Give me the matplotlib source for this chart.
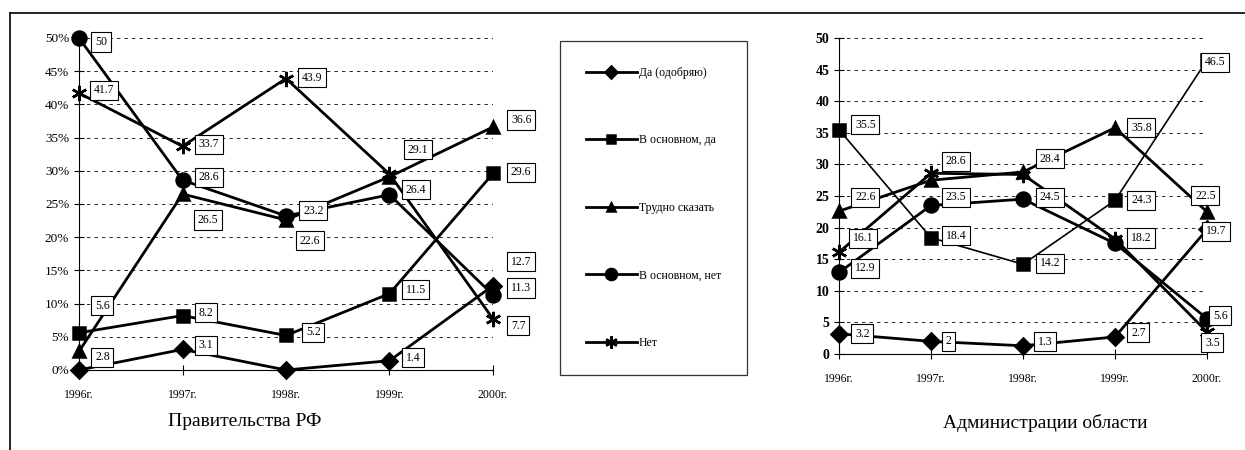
import matplotlib
matplotlib.use('Agg')
import matplotlib.pyplot as plt
from matplotlib.lines import Line2D
from matplotlib.ticker import FuncFormatter

plt.rcParams['font.family'] = ['Liberation Serif', 'DejaVu Serif']

years = ['1996г.', '1997г.', '1998г.', '1999г.', '2000г.']
series_names = ['Да (одобряю)', 'В основном, да', 'Трудно сказать', 'В основном, нет', 'Нет']

# Правительства РФ, %
gov_da = [0, 3.1, 0, 1.4, 12.7]
gov_osn_da = [5.6, 8.2, 5.2, 11.5, 29.6]
gov_trudno = [2.8, 26.5, 22.6, 29.1, 36.6]
gov_osn_net = [50, 28.6, 23.2, 26.4, 11.3]
gov_net = [41.7, 33.7, 43.9, 29.5, 7.7]
# which points carry a value box (1) or not (0)
gov_shown = [[0, 1, 0, 1, 1], [1, 1, 1, 1, 1], [1, 1, 1, 1, 1], [1, 1, 1, 1, 1], [1, 1, 1, 0, 1]]

# Администрации области
adm_da = [3.2, 2, 1.3, 2.7, 19.7]
adm_osn_da = [35.5, 18.4, 14.2, 24.3, 46.5]
adm_trudno = [22.6, 27.5, 28.8, 35.8, 22.5]
adm_osn_net = [12.9, 23.5, 24.5, 17.5, 5.6]
adm_net = [16.1, 28.6, 28.4, 18.2, 3.5]
adm_shown = [[1, 1, 1, 1, 1], [1, 1, 1, 1, 1], [1, 0, 0, 1, 1], [1, 1, 1, 0, 1], [1, 1, 1, 1, 1]]

# label offsets in pixels (dx to text left edge, dy upward)
gov_offsets = [
    [None, (16, 4), None, (16, 3), (18, 24)],
    [(16, 27), (16, 3), (20, 3), (16, 4), (18, 1)],
    [(16, -6), (15, -26), (14, -21), (18, 27), (18, 7)],
    [(16, -4), (16, 3), (17, 5), (16, 5), (18, 7)],
    [(15, 3), (16, 2), (16, 1), None, (18, -7)],
]
adm_offsets = [
    [(16, 0), (15, 0), (15, 4), (16, 4), (-1, -2)],
    [(16, 5), (15, 2), (17, 1), (16, 0), (-2, -2)],
    [(16, 14), None, None, (16, 0), (-12, 16)],
    [(16, 4), (15, 8), (17, 2), None, (6, 3)],
    [(14, 14), (15, 12), (17, 16), (16, 1), (-2, -11)],
]

markers = ['D', 's', '^', 'o', (6, 2, 0)]
msizes = [8, 8, 8, 10, 11]
gov_lw = [2, 2, 2, 2, 2]
adm_lw = [2, 1.2, 2, 2, 2]


def draw_panel(ax, data, shown, offsets, lws, percent):
    x = list(range(len(years)))
    for k, vals in enumerate(data):
        ax.plot(x, vals, color='black', lw=lws[k], marker=markers[k],
                ms=msizes[k], mec='black', mfc='black', mew=1.8,
                clip_on=False, zorder=3, label=series_names[k])
        for i, v in enumerate(vals):
            if not shown[k][i]:
                continue
            dx, dy = offsets[k][i]
            ax.annotate(f'{v:g}', (i, v), xytext=(dx, dy), textcoords='offset pixels',
                        ha='left', va='center', fontsize=8.5, zorder=5,
                        bbox=dict(boxstyle='square,pad=0.3', fc='white', ec='black', lw=0.8))
    ax.set_xlim(0, 4)
    ax.set_ylim(0, 50)
    ax.set_yticks(range(0, 51, 5))
    ax.set_xticks(x)
    ax.set_xticklabels(years, fontsize=8.5)
    if percent:
        ax.yaxis.set_major_formatter(FuncFormatter(lambda v, p: f'{v:g}%'))
        ax.tick_params(axis='y', labelsize=9.5)
    else:
        ax.tick_params(axis='y', labelsize=10)
        for t in ax.get_yticklabels():
            t.set_fontweight('bold')
    ax.grid(axis='y', linestyle=(0, (4, 5)), color='black', lw=0.6)
    ax.set_axisbelow(True)
    for s in ['top', 'right']:
        ax.spines[s].set_visible(False)
    ax.spines['left'].set_linewidth(0.8)
    ax.spines['bottom'].set_linewidth(0.8)
    ax.tick_params(direction='inout', length=7, width=0.8)
    ax.tick_params(axis='x', pad=10)


fig = plt.figure(figsize=(12.45, 4.5), dpi=100)

ax1 = fig.add_axes([79 / 1245, 1 - 370 / 450, 414 / 1245, 332 / 450])
draw_panel(ax1, [gov_da, gov_osn_da, gov_trudno, gov_osn_net, gov_net],
           gov_shown, gov_offsets, gov_lw, True)

ax2 = fig.add_axes([839 / 1245, 1 - 354 / 450, 368 / 1245, 316 / 450])
draw_panel(ax2, [adm_da, adm_osn_da, adm_trudno, adm_osn_net, adm_net],
           adm_shown, adm_offsets, adm_lw, False)

handles, labels = ax1.get_legend_handles_labels()
leg = fig.legend(handles, labels, loc='upper left', bbox_to_anchor=(560 / 1245, 1 - 41 / 450),
                 fontsize=8.5, frameon=True, fancybox=False, edgecolor='black',
                 handlelength=4.3, handletextpad=0.2, labelspacing=4.7, borderpad=2.2,
                 borderaxespad=0, markerscale=0.8)
leg.get_frame().set_linewidth(0.9)

fig.text(245 / 1245, 1 - 421 / 450, 'Правительства РФ', ha='center', va='center', fontsize=14)
fig.text(1045 / 1245, 1 - 423 / 450, 'Администрации области', ha='center', va='center', fontsize=14)

# outer frame lines
fig.add_artist(Line2D([10 / 1245, 1], [1 - 13 / 450, 1 - 13 / 450], color='black', lw=1.2))
fig.add_artist(Line2D([10 / 1245, 10 / 1245], [0, 1 - 13 / 450], color='black', lw=1.2))

fig.savefig('out.png', dpi=100)
